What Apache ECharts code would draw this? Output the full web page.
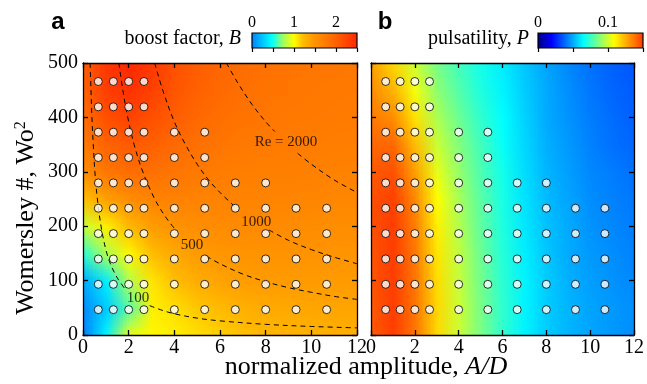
<!DOCTYPE html>
<html><head><meta charset="utf-8">
<script src="https://cdn.jsdelivr.net/npm/echarts@6/dist/echarts.min.js"></script>
<style>html,body{margin:0;padding:0;background:#fff}#c{width:647px;height:384px}</style>
</head><body><div id="c"></div>
<script>
// ---------- data ----------
const gridAD = [0,1,2,3,4,5,6,7,8,9,10,11,12];
const gridWo2 = [0,50,100,150,200,250,300,350,400,450,500];
// boost factor B, rows = gridWo2 (ascending), cols = gridAD
const boostB = [
  [0.00,0.45,0.95,1.02,1.05,1.10,1.15,1.20,1.25,1.27,1.28,1.30,1.30],
  [0.05,0.28,0.62,1.05,1.10,1.18,1.24,1.30,1.33,1.35,1.36,1.37,1.37],
  [0.15,0.42,0.80,1.08,1.22,1.32,1.38,1.42,1.43,1.43,1.43,1.43,1.43],
  [0.55,0.78,1.02,1.22,1.35,1.43,1.47,1.49,1.50,1.50,1.50,1.49,1.48],
  [0.85,1.05,1.25,1.42,1.50,1.55,1.57,1.58,1.58,1.57,1.56,1.55,1.55],
  [1.20,1.40,1.55,1.65,1.66,1.66,1.66,1.65,1.65,1.64,1.63,1.62,1.62],
  [1.55,1.78,1.88,1.85,1.80,1.76,1.73,1.71,1.70,1.70,1.69,1.68,1.67],
  [1.75,1.98,2.05,2.00,1.92,1.85,1.80,1.77,1.75,1.74,1.73,1.72,1.71],
  [1.90,2.15,2.25,2.15,2.02,1.93,1.87,1.82,1.79,1.77,1.76,1.75,1.74],
  [2.00,2.30,2.42,2.28,2.10,1.99,1.92,1.86,1.82,1.80,1.78,1.77,1.76],
  [2.05,2.38,2.50,2.35,2.15,2.03,1.95,1.89,1.85,1.82,1.80,1.79,1.78]
];
// pulsatility P, same layout
const pulsP = [
  [0.143,0.149,0.137,0.116,0.099,0.085,0.073,0.063,0.056,0.052,0.049,0.047,0.045],
  [0.143,0.149,0.137,0.116,0.099,0.085,0.073,0.063,0.056,0.052,0.049,0.047,0.045],
  [0.144,0.149,0.137,0.115,0.098,0.084,0.072,0.063,0.056,0.051,0.048,0.046,0.044],
  [0.144,0.149,0.136,0.113,0.097,0.083,0.071,0.062,0.055,0.050,0.047,0.045,0.043],
  [0.145,0.149,0.135,0.111,0.095,0.081,0.070,0.061,0.054,0.050,0.046,0.044,0.042],
  [0.145,0.148,0.133,0.108,0.093,0.080,0.069,0.060,0.053,0.049,0.045,0.043,0.041],
  [0.143,0.145,0.128,0.104,0.090,0.078,0.068,0.059,0.052,0.048,0.044,0.042,0.040],
  [0.140,0.140,0.122,0.099,0.087,0.076,0.066,0.058,0.051,0.047,0.043,0.040,0.038],
  [0.136,0.132,0.114,0.094,0.083,0.073,0.065,0.057,0.050,0.046,0.042,0.039,0.037],
  [0.132,0.124,0.106,0.089,0.079,0.070,0.063,0.056,0.050,0.045,0.041,0.038,0.036],
  [0.128,0.116,0.099,0.085,0.076,0.068,0.062,0.055,0.049,0.044,0.040,0.037,0.035]
];
// simulation sample points
const sampleAD = [0.67,1.33,2,2.67,4,5.33,6.67,8,9.33,10.67];
const sampleWo2 = [46.6,93.2,139.8,186.4,233,279.6,326.2,372.8,419.4,466];
const samplesPerRow = [10,10,10,10,10,8,6,6,4,4];
// Reynolds-number contours (null = gap for label)
const re100 = [[0.31,500],[0.35,450],[0.39,400],[0.45,350],[0.52,300],[0.63,250],[0.79,200],[1.0,157],[1.2,131],[1.5,105],[1.82,86],null,
               [2.92,54],[3.5,45],[4,39],[5,31],[6,26],[8,19.6],[10,15.7],[12,13.1]];
const re500 = [[1.57,500],[1.75,449],[1.96,400],[2.24,350],[2.62,300],[3.14,250],[3.6,218],[4.0,196],null,
               [5.4,145],[6,131],[7,112],[8,98],[9,87],[10,78.5],[11,71],[12,65.4]];
const re1000 = [[3.14,500],[3.5,449],[4,392],[4.5,349],[5,314],[5.5,285],[6,262],[6.7,234],null,
                [8.15,193],[9,174],[10,157],[11,143],[12,131]];
const re2000 = [[6.28,500],[6.8,462],[7.4,424],[8.0,392],[8.4,374],null,
                [9.4,334],[10,314],[11,285],[12,262]];
const reLabels = ['Re = 2000','1000','500','100'];
const reLabelAD = [8.89,7.59,4.77,2.41];
const reLabelWo2 = [354,208,165,67];
// colour bars
const boostBarMax = 2.5, boostBarStep = 0.5, boostBarLabels = [0,1,2];
const pulsBarMax = 0.15, pulsBarStep = 0.05, pulsBarLabels = [0,0.1];

// ---------- colour maps ----------
const boostStops = [[0,'#0080ff'],[0.48,'#00ffff'],[0.75,'#a0ff60'],[1.0,'#ffff00'],[1.2,'#ffc000'],[1.45,'#ff9800'],[1.9,'#ff6c00'],[2.5,'#ff2800']];
const pulsStops = [[0,'#00007f'],[0.02,'#0000ff'],[0.065,'#00ffff'],[0.108,'#ffff00'],[0.15,'#ff3800']];
function makeCmap(stops){
  return function(v){
    if (v <= stops[0][0]) return stops[0][1];
    for (let i = 1; i < stops.length; i++) {
      if (v <= stops[i][0]) {
        const t = (v - stops[i-1][0]) / (stops[i][0] - stops[i-1][0]);
        return echarts.color.lerp(t, [stops[i-1][1], stops[i][1]]);
      }
    }
    return stops[stops.length-1][1];
  };
}
function buildField(grid, cmap){
  const ny = grid.length, nx = grid[0].length;
  const c = document.createElement('canvas'); c.width = nx; c.height = ny;
  const ctx = c.getContext('2d');
  for (let j = 0; j < ny; j++) for (let i = 0; i < nx; i++) {
    ctx.fillStyle = cmap(grid[j][i]);
    ctx.fillRect(i, ny-1-j, 1, 1);
  }
  return c;
}
const fieldB = buildField(boostB, makeCmap(boostStops));
const fieldP = buildField(pulsP, makeCmap(pulsStops));
function fieldRender(canvas){
  return function(params, api){
    const p0 = api.coord([gridAD[0], gridWo2[gridWo2.length-1]]);
    const p1 = api.coord([gridAD[gridAD.length-1], gridWo2[0]]);
    return {type:'image', style:{image:canvas, sx:0.5, sy:0.5, sWidth:canvas.width-1, sHeight:canvas.height-1,
      x:p0[0], y:p0[1], width:p1[0]-p0[0], height:p1[1]-p0[1]}};
  };
}
function barRender(stops, max){
  return function(params, api){
    const p0 = api.coord([0,1]), p1 = api.coord([max,0]);
    return {type:'rect', shape:{x:p0[0], y:p0[1], width:p1[0]-p0[0], height:p1[1]-p0[1]},
      style:{fill:new echarts.graphic.LinearGradient(0,0,1,0, stops.map(s=>({offset:s[0]/max, color:s[1]}))), stroke:'#000', lineWidth:1.2}};
  };
}

// ---------- build ----------
const serif = '"Liberation Serif","Times New Roman",serif';
const samples = [];
sampleWo2.forEach((w, j) => { for (let i = 0; i < samplesPerRow[j]; i++) samples.push([sampleAD[i], w]); });

function contourSeries(pts){
  const segs = [[]];
  pts.forEach(p => { if (p === null) segs.push([]); else segs[segs.length-1].push(p); });
  return segs.map(s => ({type:'line', xAxisIndex:0, yAxisIndex:0, data:s, smooth:0.35, symbol:'none', silent:true, z:3,
    lineStyle:{color:'#000', width:1, type:[5,4]}}));
}

function xAx(gi, pos, show){
  return {type:'value', gridIndex:gi, position:pos, min:0, max:12, interval:2, z:10,
    axisLine:{show:true, onZero:false, lineStyle:{color:'#000', width:1.3}},
    axisTick:{show:true, inside:true, length:5, lineStyle:{color:'#000', width:1.3}},
    axisLabel:{show:show, color:'#000', fontFamily:serif, fontSize:20, margin:3},
    splitLine:{show:false}};
}
function yAx(gi, pos, show){
  return {type:'value', gridIndex:gi, position:pos, min:0, max:500, interval:100, z:10,
    axisLine:{show:true, onZero:false, lineStyle:{color:'#000', width:1.3}},
    axisTick:{show:true, inside:true, length:5, lineStyle:{color:'#000', width:1.3}},
    axisLabel:{show:show, color:'#000', fontFamily:serif, fontSize:20, margin:5},
    splitLine:{show:false}};
}
function barAx(gi, max, step, labels){
  return {type:'value', gridIndex:gi, position:'top', min:0, max:max, interval:step, z:10,
    axisLine:{show:false},
    axisTick:{show:true, inside:true, length:4, lineStyle:{color:'#000', width:1.2}},
    axisLabel:{color:'#000', fontFamily:serif, fontSize:16, margin:2,
      formatter: v => { const l = labels.find(x => Math.abs(x - v) < 1e-9); return l === undefined ? '' : String(l); }},
    splitLine:{show:false}};
}
function hiddenY(gi){ return {type:'value', gridIndex:gi, min:0, max:1, show:false}; }

const option = {
  animation:false,
  backgroundColor:'#fff',
  grid:[
    {left:83, top:63, width:274, height:272},
    {left:371, top:63, width:272, height:272},
    {left:252, top:33, width:105, height:15},
    {left:538, top:33, width:105, height:15}
  ],
  xAxis:[xAx(0,'bottom',true), xAx(0,'top',false), xAx(1,'bottom',true), xAx(1,'top',false),
         barAx(2, boostBarMax, boostBarStep, boostBarLabels), barAx(3, pulsBarMax, pulsBarStep, pulsBarLabels)],
  yAxis:[yAx(0,'left',true), yAx(0,'right',false), yAx(1,'left',false), yAx(1,'right',false), hiddenY(2), hiddenY(3)],
  series:[
    {type:'custom', xAxisIndex:0, yAxisIndex:0, data:[[0,0]], renderItem:fieldRender(fieldB), silent:true, z:1},
    {type:'custom', xAxisIndex:2, yAxisIndex:2, data:[[0,0]], renderItem:fieldRender(fieldP), silent:true, z:1},
    ...contourSeries(re100), ...contourSeries(re500), ...contourSeries(re1000), ...contourSeries(re2000),
    {type:'scatter', xAxisIndex:0, yAxisIndex:0, symbolSize:1, silent:true, z:4,
      itemStyle:{color:'rgba(0,0,0,0)'},
      data: reLabels.map((t,i) => ({name:t, value:[reLabelAD[i], reLabelWo2[i]]})),
      label:{show:true, position:'inside', formatter:p => p.name, color:'#000', fontFamily:serif, fontSize:15}},
    {type:'scatter', xAxisIndex:0, yAxisIndex:0, data:samples, symbolSize:8, z:5, silent:true,
      itemStyle:{color:'#fff', borderColor:'#000', borderWidth:1}},
    {type:'scatter', xAxisIndex:2, yAxisIndex:2, data:samples, symbolSize:8, z:5, silent:true,
      itemStyle:{color:'#fff', borderColor:'#000', borderWidth:1}},
    {type:'custom', xAxisIndex:4, yAxisIndex:4, data:[[0,0]], renderItem:barRender(boostStops, boostBarMax), silent:true, z:1},
    {type:'custom', xAxisIndex:5, yAxisIndex:5, data:[[0,0]], renderItem:barRender(pulsStops, pulsBarMax), silent:true, z:1}
  ],
  graphic:[
    {type:'text', x:58, y:22, style:{text:'a', fontFamily:'"Liberation Sans",Arial,sans-serif', fontWeight:'bold', fontSize:24, fill:'#000', align:'center', verticalAlign:'middle'}},
    {type:'text', x:385, y:22, style:{text:'b', fontFamily:'"Liberation Sans",Arial,sans-serif', fontWeight:'bold', fontSize:24, fill:'#000', align:'center', verticalAlign:'middle'}},
    {type:'text', x:241, y:39, style:{text:'boost factor, {i|B}', fontFamily:serif, fontSize:20, fill:'#000', align:'right', verticalAlign:'middle',
      rich:{i:{fontStyle:'italic', fontFamily:serif, fontSize:20, fill:'#000'}}}},
    {type:'text', x:529, y:39, style:{text:'pulsatility, {i|P}', fontFamily:serif, fontSize:20, fill:'#000', align:'right', verticalAlign:'middle',
      rich:{i:{fontStyle:'italic', fontFamily:serif, fontSize:20, fill:'#000'}}}},
    {type:'text', x:366, y:367, style:{text:'normalized amplitude, {i|A/D}', fontFamily:serif, fontSize:26, fill:'#000', align:'center', verticalAlign:'middle',
      rich:{i:{fontStyle:'italic', fontFamily:serif, fontSize:26, fill:'#000'}}}},
    {type:'text', x:26, y:218, rotation:Math.PI/2, style:{text:'{t|Womersley #, Wo}{s|2}', fill:'#000', align:'center', verticalAlign:'middle',
      rich:{t:{fontFamily:serif, fontSize:26, fill:'#000'}, s:{fontFamily:serif, fontSize:16, fill:'#000', verticalAlign:'top'}}}}
  ]
};
const chart = echarts.init(document.getElementById('c'), null, {renderer:'canvas'});
chart.setOption(option);
</script></body></html>
